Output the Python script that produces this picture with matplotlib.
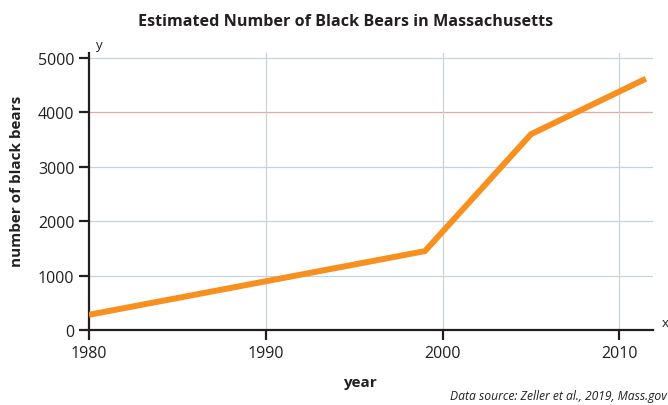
import matplotlib.pyplot as plt

years = [1980, 1999, 2005, 2011.5]
bears = [280, 1450, 3600, 4620]
xticks = [1980, 1990, 2000, 2010]
yticks = [0, 1000, 2000, 3000, 4000, 5000]

plt.rcParams['font.family'] = ['Open Sans', 'DejaVu Sans']

fig = plt.figure(figsize=(6.68, 4.06), dpi=100)
ax = fig.add_axes([89 / 668, 75 / 406, 564 / 668, 277.4 / 406])

# grid lines, the 4000 one is reddish
for y in yticks[1:]:
    c = '#e8a9a0' if y == 4000 else '#c5d3dc'
    ax.axhline(y, color=c, lw=0.9, zorder=1)
for x in xticks[1:]:
    ax.axvline(x, color='#c5d3dc', lw=0.9, zorder=1)

ax.plot(years, bears, color='#f7901e', lw=4.3, solid_capstyle='butt', zorder=3)

ax.set_xlim(1980, 2011.9)
ax.set_ylim(0, 5100)
ax.set_xticks(xticks)
ax.set_yticks(yticks)
ax.tick_params(direction='out', length=7, width=1.6, labelsize=11.5, color='#231f20', labelcolor='#231f20')
ax.tick_params(axis='x', pad=4)
for s in ['top', 'right']:
    ax.spines[s].set_visible(False)
for s in ['left', 'bottom']:
    ax.spines[s].set_linewidth(1.6)
    ax.spines[s].set_color('#231f20')

ax.text(1980.4, 5130, 'y', fontsize=9.5, ha='left', va='bottom', color='#231f20')
ax.text(2012.4, 20, 'x', fontsize=9.5, ha='left', va='bottom', color='#231f20')

fig.text(360 / 668, 1 - 383 / 406, 'year', fontsize=11, fontweight='bold',
         ha='center', va='center', color='#231f20')
fig.text(17 / 668, 1 - 181 / 406, 'number of black bears', fontsize=11, fontweight='bold',
         rotation=90, ha='center', va='center', color='#231f20')

fig.text(346 / 668, 1 - 22 / 406, 'Estimated Number of Black Bears in Massachusetts', fontsize=11.6,
         fontweight='bold', ha='center', va='center', color='#231f20')
fig.text(0.999, 1 - 397 / 406, 'Data source: Zeller et al., 2019, Mass.gov', fontsize=8.7,
         style='italic', ha='right', va='center', color='#231f20')

fig.savefig('out.png', dpi=100)
